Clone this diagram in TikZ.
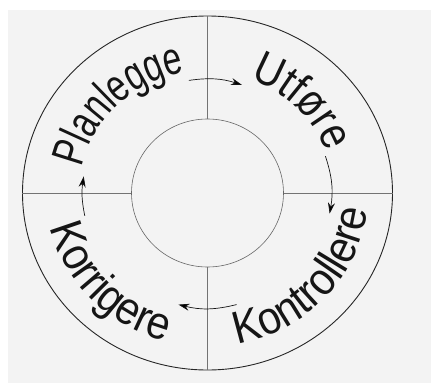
\documentclass[tikz,border=0pt]{standalone}
\usepackage{fontspec}
\setmainfont{Liberation Sans}
\newfontfamily\narrowfont[FakeStretch=0.73]{Liberation Sans}
\newfontfamily\midfont[FakeStretch=0.85]{Liberation Sans}
\newfontfamily\widefont[FakeStretch=0.9]{Liberation Sans}
\usetikzlibrary{decorations.text,arrows.meta}
\definecolor{bg}{HTML}{F3F3F3}
\definecolor{ink}{HTML}{151515}
\begin{document}
\begin{tikzpicture}[x=1pt,y=1pt,
  outerring/.style={draw=black!85, line width=0.9pt},
  innerring/.style={draw=black!60, line width=0.6pt},
  cross/.style={draw=black!55, line width=0.5pt},
  flow/.style={draw=ink, line width=0.7pt, -{Stealth[length=11pt,width=7pt]}},
  word/.style 2 args={decorate, decoration={text along path, text align=center,
      text color=ink, text={|#1\fontsize{46}{46}\selectfont|#2}}},
]
\useasboundingbox (-207.5,-190) rectangle (223.5,193);
\fill[bg] (-199.5,-190) rectangle (223.5,183);

% rings
\draw[outerring] (0,0) ellipse [x radius=185, y radius=177];
\draw[innerring] (0,0) ellipse [x radius=76, y radius=74];

% cross lines
\coordinate (nO) at (0,177);  \coordinate (nI) at (0,74);
\coordinate (sO) at (0,-177); \coordinate (sI) at (0,-74);
\coordinate (wO) at (-185,0); \coordinate (wI) at (-76,0);
\coordinate (eO) at (185,0);  \coordinate (eI) at (76,0);
\draw[cross] (nO) -- (nI);
\draw[cross] (sI) -- (sO);
\draw[cross] (wO) -- (wI);
\draw[cross] (eI) -- (eO);

% words
\path[word={\narrowfont}{Planlegge}] (215:128 and 123) arc[start angle=215, end angle=55, x radius=128, y radius=123];
\path[word={\midfont}{Utføre}] (124:126 and 121) arc[start angle=124, end angle=-36, x radius=126, y radius=121];
\path[word={\widefont}{Kontrollere}] (-122:161 and 154) arc[start angle=-122, end angle=38, x radius=161, y radius=154];
\path[word={\widefont}{Korrigere}] (143:161 and 154) arc[start angle=143, end angle=303, x radius=161, y radius=154];

% arrows
\coordinate (a1) at (99:119 and 114);  \coordinate (b1) at (73:118 and 113);
\coordinate (a2) at (18:124 and 119);  \coordinate (b2) at (-10:124 and 119);
\coordinate (a3) at (-76:120 and 115); \coordinate (b3) at (-104:120 and 115);
\coordinate (a4) at (191:125 and 120); \coordinate (b4) at (172:125 and 120);
\draw[flow] (a1) to[bend left=13] (b1);
\draw[flow] (a2) to[bend left=14] (b2);
\draw[flow] (a3) to[bend left=14] (b3);
\draw[flow] (a4) to[bend left=10] (b4);
\end{tikzpicture}
\end{document}
